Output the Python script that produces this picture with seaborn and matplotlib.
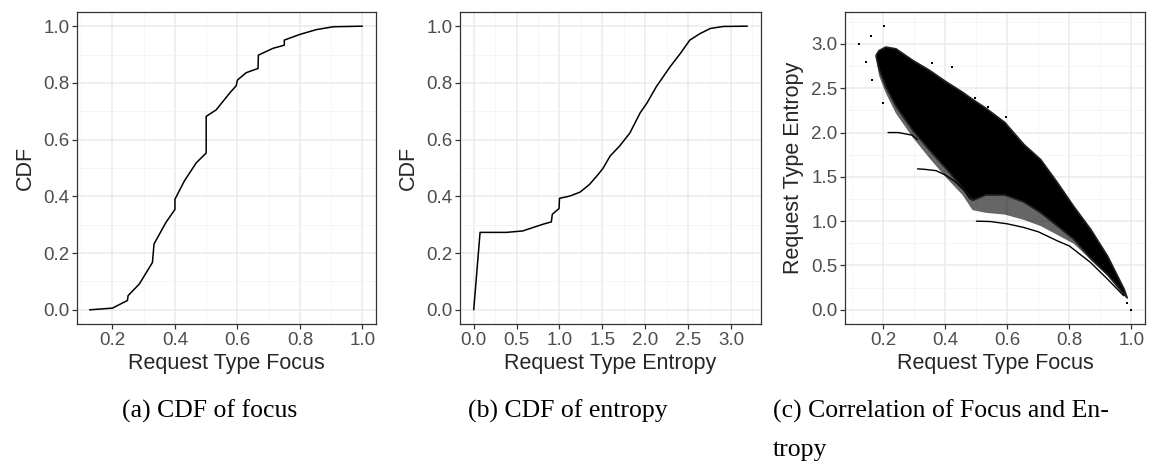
import matplotlib
matplotlib.use("Agg")
import numpy as np
import pandas as pd
import matplotlib.pyplot as plt
import seaborn as sns
from matplotlib.ticker import MultipleLocator, FormatStrFormatter

# (a) CDF of request type focus (repeated x = vertical jump)
focus_x = [0.127, 0.2, 0.248, 0.25, 0.286, 0.328, 0.333, 0.371, 0.4, 0.4, 0.43, 0.468, 0.5, 0.5,
           0.532, 0.575, 0.596, 0.6, 0.628, 0.666, 0.667, 0.714, 0.75, 0.75, 0.8, 0.853, 0.907, 1.0]
focus_cdf = [0.0, 0.006, 0.033, 0.05, 0.091, 0.167, 0.232, 0.308, 0.354, 0.39, 0.454, 0.518, 0.553, 0.682,
             0.705, 0.764, 0.79, 0.81, 0.836, 0.851, 0.898, 0.922, 0.933, 0.951, 0.971, 0.988, 0.998, 1.0]

# (b) CDF of request type entropy
entropy_x = [0.0, 0.074, 0.38, 0.57, 0.69, 0.81, 0.905, 0.917, 0.963, 0.995, 1.0, 1.12, 1.24, 1.35, 1.45,
             1.51, 1.59, 1.70, 1.82, 1.94, 2.02, 2.13, 2.29, 2.41, 2.52, 2.64, 2.76, 2.91, 3.19]
entropy_cdf = [0.0, 0.273, 0.273, 0.278, 0.29, 0.302, 0.31, 0.337, 0.349, 0.357, 0.393, 0.401, 0.415, 0.442,
               0.477, 0.5, 0.542, 0.577, 0.623, 0.694, 0.729, 0.787, 0.857, 0.904, 0.951, 0.974, 0.992, 0.999, 1.0]

# (c) focus vs entropy: envelope of the dense point cloud
cloud_x = [0.175, 0.184, 0.206, 0.239, 0.293, 0.346, 0.4, 0.454, 0.486, 0.529, 0.59, 0.652, 0.706,
           0.76, 0.813, 0.868, 0.922, 0.975, 0.985]
cloud_hi = [2.88, 2.93, 2.97, 2.95, 2.82, 2.71, 2.58, 2.46, 2.38, 2.28, 2.12, 1.87, 1.70,
            1.44, 1.17, 0.91, 0.61, 0.24, 0.14]
cloud_core_lo = [2.86, 2.72, 2.52, 2.30, 2.03, 1.81, 1.60, 1.38, 1.24, 1.30, 1.30, 1.22, 1.10,
                 0.95, 0.80, 0.58, 0.40, 0.18, 0.14]
cloud_sparse_lo = [2.86, 2.65, 2.45, 2.22, 1.95, 1.72, 1.50, 1.30, 1.13, 1.10, 1.08, 1.02, 0.95,
                   0.85, 0.75, 0.57, 0.39, 0.17, 0.14]
# two-type lower bound and other boundary streaks
bound2_x = [0.5, 0.545, 0.6, 0.652, 0.7, 0.76, 0.8, 0.868, 0.922, 0.975]
bound2_y = [1.0, 0.996, 0.97, 0.93, 0.88, 0.78, 0.72, 0.535, 0.35, 0.16]
bound3_x = [0.31, 0.333, 0.37, 0.4, 0.43, 0.46, 0.48]
bound3_y = [1.59, 1.585, 1.57, 1.52, 1.45, 1.35, 1.25]
bound4_x = [0.215, 0.248, 0.293, 0.31]
bound4_y = [2.0, 2.0, 1.97, 1.92]
stray_x = [0.12, 0.203, 0.16, 0.144, 0.162, 0.197, 0.357, 0.42, 0.495, 0.594, 0.537, 0.625, 0.705, 0.75, 0.84, 0.987, 1.0]
stray_y = [3.0, 3.2, 3.09, 2.8, 2.59, 2.33, 2.79, 2.74, 2.39, 2.17, 2.29, 1.95, 1.66, 1.45, 0.91, 0.075, 0.0]

captions = ["(a) CDF of focus", "(b) CDF of entropy", "(c) Correlation of Focus and En-\ntropy"]

sns.set_theme(style="whitegrid")
plt.rcParams["font.family"] = ["Liberation Sans", "DejaVu Sans"]

fig = plt.figure(figsize=(11.63, 4.65), dpi=100)
ax_a = fig.add_axes([77 / 1163, 1 - 324 / 465, 299 / 1163, 312 / 465])
ax_b = fig.add_axes([460 / 1163, 1 - 324 / 465, 301 / 1163, 312 / 465])
ax_c = fig.add_axes([845 / 1163, 1 - 324 / 465, 300 / 1163, 312 / 465])

df_a = pd.DataFrame({"x": focus_x, "y": focus_cdf})
sns.lineplot(data=df_a, x="x", y="y", ax=ax_a, color="black", lw=1.1, sort=False, estimator=None)
df_b = pd.DataFrame({"x": entropy_x, "y": entropy_cdf})
sns.lineplot(data=df_b, x="x", y="y", ax=ax_b, color="black", lw=1.1, sort=False, estimator=None)

ax_c.fill_between(cloud_x, cloud_sparse_lo, cloud_core_lo, color="black", alpha=0.6, lw=0)
ax_c.fill_between(cloud_x, cloud_core_lo, cloud_hi, facecolor="black", edgecolor="#222222", lw=1.2)
for bx, by in [(bound2_x, bound2_y), (bound3_x, bound3_y), (bound4_x, bound4_y)]:
    sns.lineplot(x=bx, y=by, ax=ax_c, color="black", lw=1.0, sort=False, estimator=None)
sns.scatterplot(x=stray_x, y=stray_y, ax=ax_c, color="black", marker="s", s=2.5, linewidth=0)

for ax in (ax_a, ax_b, ax_c):
    ax.set_axisbelow(True)
    ax.grid(which="major", color="#EBEBEB", lw=1.1)
    ax.grid(which="minor", color="#F4F4F4", lw=0.6)
    for sp in ax.spines.values():
        sp.set_visible(True)
        sp.set_color("#333333")
        sp.set_linewidth(0.9)
    ax.tick_params(which="major", length=3.5, width=0.9, color="#333333", labelsize=13.5,
                   labelcolor="#4D4D4D", pad=2, bottom=True, left=True)
    ax.tick_params(which="minor", length=0)

ax_a.set_xlim(0.0865, 1.0435)
ax_a.set_ylim(-0.05, 1.05)
ax_a.xaxis.set_major_locator(MultipleLocator(0.2))
ax_a.xaxis.set_minor_locator(MultipleLocator(0.1))
ax_a.yaxis.set_major_locator(MultipleLocator(0.2))
ax_a.yaxis.set_minor_locator(MultipleLocator(0.1))
ax_a.set_xlabel("Request Type Focus", fontsize=15.5, labelpad=3)
ax_a.set_ylabel("CDF", fontsize=15.5, labelpad=5)

ax_b.set_xlim(-0.16, 3.35)
ax_b.set_ylim(-0.05, 1.05)
ax_b.xaxis.set_major_locator(MultipleLocator(0.5))
ax_b.xaxis.set_minor_locator(MultipleLocator(0.25))
ax_b.yaxis.set_major_locator(MultipleLocator(0.2))
ax_b.yaxis.set_minor_locator(MultipleLocator(0.1))
ax_b.set_xlabel("Request Type Entropy", fontsize=15.5, labelpad=3)
ax_b.set_ylabel("CDF", fontsize=15.5, labelpad=5)

ax_c.set_xlim(0.076, 1.044)
ax_c.set_ylim(-0.16, 3.36)
ax_c.xaxis.set_major_locator(MultipleLocator(0.2))
ax_c.xaxis.set_minor_locator(MultipleLocator(0.1))
ax_c.yaxis.set_major_locator(MultipleLocator(0.5))
ax_c.yaxis.set_minor_locator(MultipleLocator(0.25))
ax_c.set_xlabel("Request Type Focus", fontsize=15.5, labelpad=3)
ax_c.set_ylabel("Request Type Entropy", fontsize=15.5, labelpad=5)

for ax in (ax_a, ax_b, ax_c):
    ax.xaxis.set_major_formatter(FormatStrFormatter("%.1f"))
    ax.yaxis.set_major_formatter(FormatStrFormatter("%.1f"))

cap_x = [122 / 1163, 468 / 1163, 773 / 1163]
for cx, txt in zip(cap_x, captions):
    fig.text(cx, 1 - 400 / 465, txt, family=["Liberation Serif"], fontsize=18.5, va="top",
             ha="left", linespacing=1.9, color="black")

fig.savefig("out.png", dpi=100, facecolor="white")
